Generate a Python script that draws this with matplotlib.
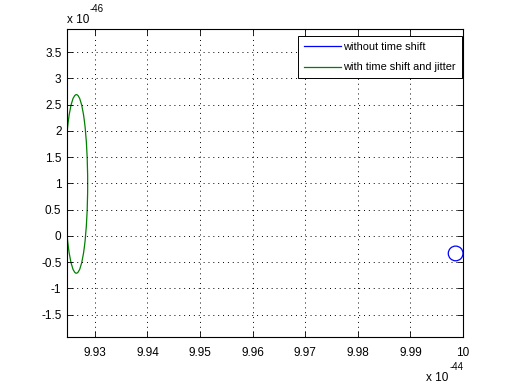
import matplotlib
matplotlib.use("Agg")
from matplotlib import pyplot as plt
from matplotlib.patches import Ellipse
from matplotlib.lines import Line2D

# values in units of 1e-44 (x) and 1e-46 (y)
labels = ["without time shift", "with time shift and jitter"]
colors = ["#0000ff", "#008000"]
centers_x = [9.9986, 9.92648]
centers_y = [-0.334, 0.99]
widths = [0.0028, 0.0043]
heights = [0.28, 3.40]

x_ticks = [9.93, 9.94, 9.95, 9.96, 9.97, 9.98, 9.99, 10.0]
x_ticklabels = ["9.93", "9.94", "9.95", "9.96", "9.97", "9.98", "9.99", "10"]
y_ticks = [-1.5, -1, -0.5, 0, 0.5, 1, 1.5, 2, 2.5, 3, 3.5]
y_ticklabels = ["-1.5", "-1", "-0.5", "0", "0.5", "1", "1.5", "2", "2.5", "3", "3.5"]

plt.rcParams["font.family"] = ["Liberation Sans", "DejaVu Sans"]
plt.rcParams["font.size"] = 8.5

fig = plt.figure(figsize=(5.12, 3.84), dpi=100)
ax = fig.add_axes([67 / 512, 1 - 337 / 384, 396 / 512, 308 / 384])

for xc, yc, w, h, c in zip(centers_x, centers_y, widths, heights, colors):
    ax.add_patch(Ellipse((xc, yc), w, h, fill=False, edgecolor=c, linewidth=0.9))

ax.set_xlim(9.9247, 10.0)
ax.set_ylim(-1.925, 3.94)
ax.set_xticks(x_ticks)
ax.set_xticklabels(x_ticklabels)
ax.set_yticks(y_ticks)
ax.set_yticklabels(y_ticklabels)
ax.tick_params(direction="in", length=4, width=0.6, top=True, right=True)
ax.tick_params(axis="y", pad=4)
ax.tick_params(axis="x", pad=7)
ax.grid(True, color="black", linestyle=(0, (1, 4)), linewidth=0.7)
for s in ax.spines.values():
    s.set_linewidth(0.8)

fig.text(67 / 512, 1 - 20 / 384, "x 10", ha="left", va="center")
fig.text(90 / 512, 1 - 9 / 384, "-46", ha="left", va="center", fontsize=7)
fig.text(426 / 512, 1 - 378 / 384, "x 10", ha="left", va="center")
fig.text(450 / 512, 1 - 367 / 384, "-44", ha="left", va="center", fontsize=7)

handles = [Line2D([], [], color=c, linewidth=0.9) for c in colors]
leg = ax.legend(handles, labels, loc="upper right",
                bbox_to_anchor=(462 / 512, 1 - 36 / 384), bbox_transform=fig.transFigure,
                fancybox=False, framealpha=1, edgecolor="black", borderaxespad=0,
                borderpad=0.55, handlelength=3.3, handletextpad=0.25,
                labelspacing=0.95, fontsize=7.9)
leg.get_frame().set_linewidth(0.7)

fig.savefig("out.png", dpi=100)
